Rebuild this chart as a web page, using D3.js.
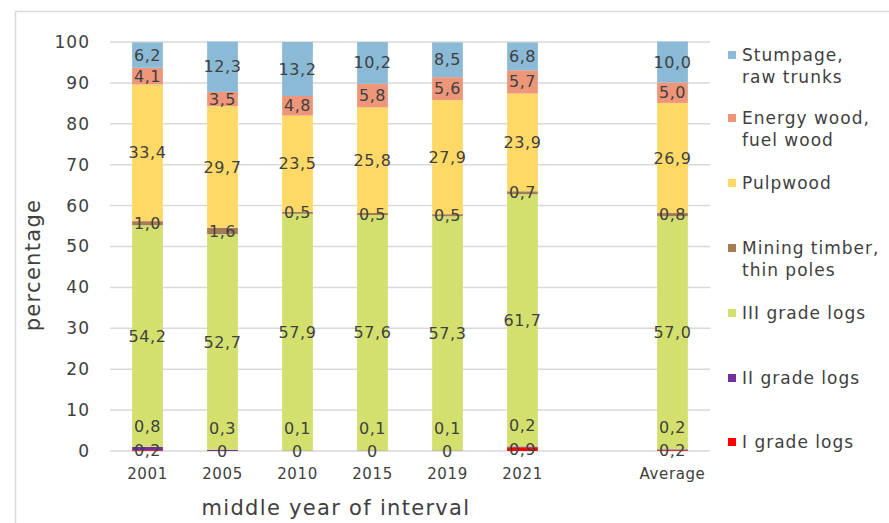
<!DOCTYPE html>
<html><head><meta charset="utf-8">
<script src="https://cdn.jsdelivr.net/npm/d3@7"></script>
<style>
body{margin:0;background:#fff;}
text{font-family:"DejaVu Sans",sans-serif;fill:#404040;}
</style></head>
<body><svg id="c" width="889" height="523"></svg>
<script>
const categories = ["2001","2005","2010","2015","2019","2021","","Average"];
const seriesNames = ["I grade logs","II grade logs","III grade logs","Mining timber, thin poles","Pulpwood","Energy wood, fuel wood","Stumpage, raw trunks"];
const gradeI    = [0.2, 0,   0,    0,    0,    0.9, null, 0.2];
const gradeII   = [0.8, 0.3, 0.1,  0.1,  0.1,  0.2, null, 0.2];
const gradeIII  = [54.2,52.7,57.9, 57.6, 57.3, 61.7,null, 57.0];
const mining    = [1.0, 1.6, 0.5,  0.5,  0.5,  0.7, null, 0.8];
const pulpwood  = [33.4,29.7,23.5, 25.8, 27.9, 23.9,null, 26.9];
const energy    = [4.1, 3.5, 4.8,  5.8,  5.6,  5.7, null, 5.0];
const stumpage  = [6.2, 12.3,13.2, 10.2, 8.5,  6.8, null, 10.0];
const yTicks = [0,10,20,30,40,50,60,70,80,90,100];
const colors = ["#FF0000","#7030A0","#D3E06E","#A57C55","#FFD966","#ED967A","#8BBAD6"];

const seriesValues = [gradeI, gradeII, gradeIII, mining, pulpwood, energy, stumpage];
const fmt = v => v === 0 ? "0" : v.toFixed(1).replace(".", ",");

const svg = d3.select("#c");
svg.append("rect").attr("x",15.5).attr("y",11.5).attr("width",900).attr("height",600)
  .attr("fill","none").attr("stroke","#d9d9d9").attr("stroke-width",1.5);

const pL = 110, pR = 710, pT = 42, pB = 451;
const x = d3.scaleBand().domain(categories.map((c,i)=>i)).range([pL,pR]).paddingInner(0.59).paddingOuter(0.295);
const y = d3.scaleLinear().domain([0,100]).range([pB, pT]);

svg.append("g").selectAll("line").data(yTicks).join("line")
  .attr("x1",pL).attr("x2",pR).attr("y1",d=>y(d)).attr("y2",d=>y(d))
  .attr("stroke","#d9d9d9").attr("stroke-width",1.5);

const yAxis = d3.axisLeft(y).tickValues(yTicks).tickSize(0).tickPadding(0);
const yg = svg.append("g").attr("transform",`translate(${pL-20},0)`).call(yAxis);
yg.select(".domain").remove();
yg.selectAll("text").style("font-size","17px").style("letter-spacing","1px").attr("fill","#404040").style("font-family","DejaVu Sans");

const xAxis = d3.axisBottom(x).tickFormat(i=>categories[i]).tickSize(0).tickPadding(0);
const xg = svg.append("g").attr("transform",`translate(0,${pB+17})`).call(xAxis);
xg.select(".domain").remove();
xg.selectAll("text").style("font-size","15px").style("letter-spacing","0.6px").attr("fill","#404040").style("font-family","DejaVu Sans");

const rows = categories.map((c,i)=>{ const r={i}; seriesValues.forEach((s,k)=>r[k]=s[i]||0); return r;});
const stack = d3.stack().keys(d3.range(seriesNames.length))(rows);
const valid = categories.map((c,i)=>gradeIII[i]!==null);

stack.forEach((layer,k)=>{
  svg.append("g").selectAll("rect").data(layer.filter(d=>valid[d.data.i])).join("rect")
    .attr("x",d=>x(d.data.i)).attr("width",x.bandwidth())
    .attr("y",d=>y(d[1])).attr("height",d=>Math.max(0,y(d[0])-y(d[1])))
    .attr("fill",colors[k]);
});
stack.forEach((layer,k)=>{
  svg.append("g").selectAll("text").data(layer.filter(d=>valid[d.data.i])).join("text")
    .attr("x",d=>x(d.data.i)+x.bandwidth()/2)
    .attr("y",d=>{ let cy=(y(d[0])+y(d[1]))/2; if(k===1) cy-=22; return cy; })
    .attr("dy","0.35em").attr("text-anchor","middle")
    .style("font-size","16px").style("letter-spacing","0.6px").attr("fill","#262626")
    .text(d=>fmt(seriesValues[k][d.data.i]));
});

svg.append("text").attr("x",336).attr("y",515).attr("text-anchor","middle").style("font-size","21px").style("letter-spacing","1.3px").text("middle year of interval");
svg.append("text").attr("transform","translate(40,265) rotate(-90)").attr("text-anchor","middle").style("font-size","21px").style("letter-spacing","1.3px").text("percentage");

const legend = [
  {k:6, lines:["Stumpage,","raw trunks"], y:55},
  {k:5, lines:["Energy wood,","fuel wood"], y:118},
  {k:4, lines:["Pulpwood"], y:183},
  {k:3, lines:["Mining timber,","thin poles"], y:248},
  {k:2, lines:["III grade logs"], y:313},
  {k:1, lines:["II grade logs"], y:378},
  {k:0, lines:["I grade logs"], y:442}
];
const lg = svg.append("g");
legend.forEach(l=>{
  lg.append("rect").attr("x",728).attr("y",l.y-4).attr("width",8).attr("height",8).attr("fill",colors[l.k]);
  const t = lg.append("text").attr("x",742).attr("y",l.y).style("font-size","17px").style("letter-spacing","1px");
  l.lines.forEach((ln,j)=>t.append("tspan").attr("x",742).attr("dy",j===0?"0.35em":"22px").text(ln));
});
</script></body></html>
